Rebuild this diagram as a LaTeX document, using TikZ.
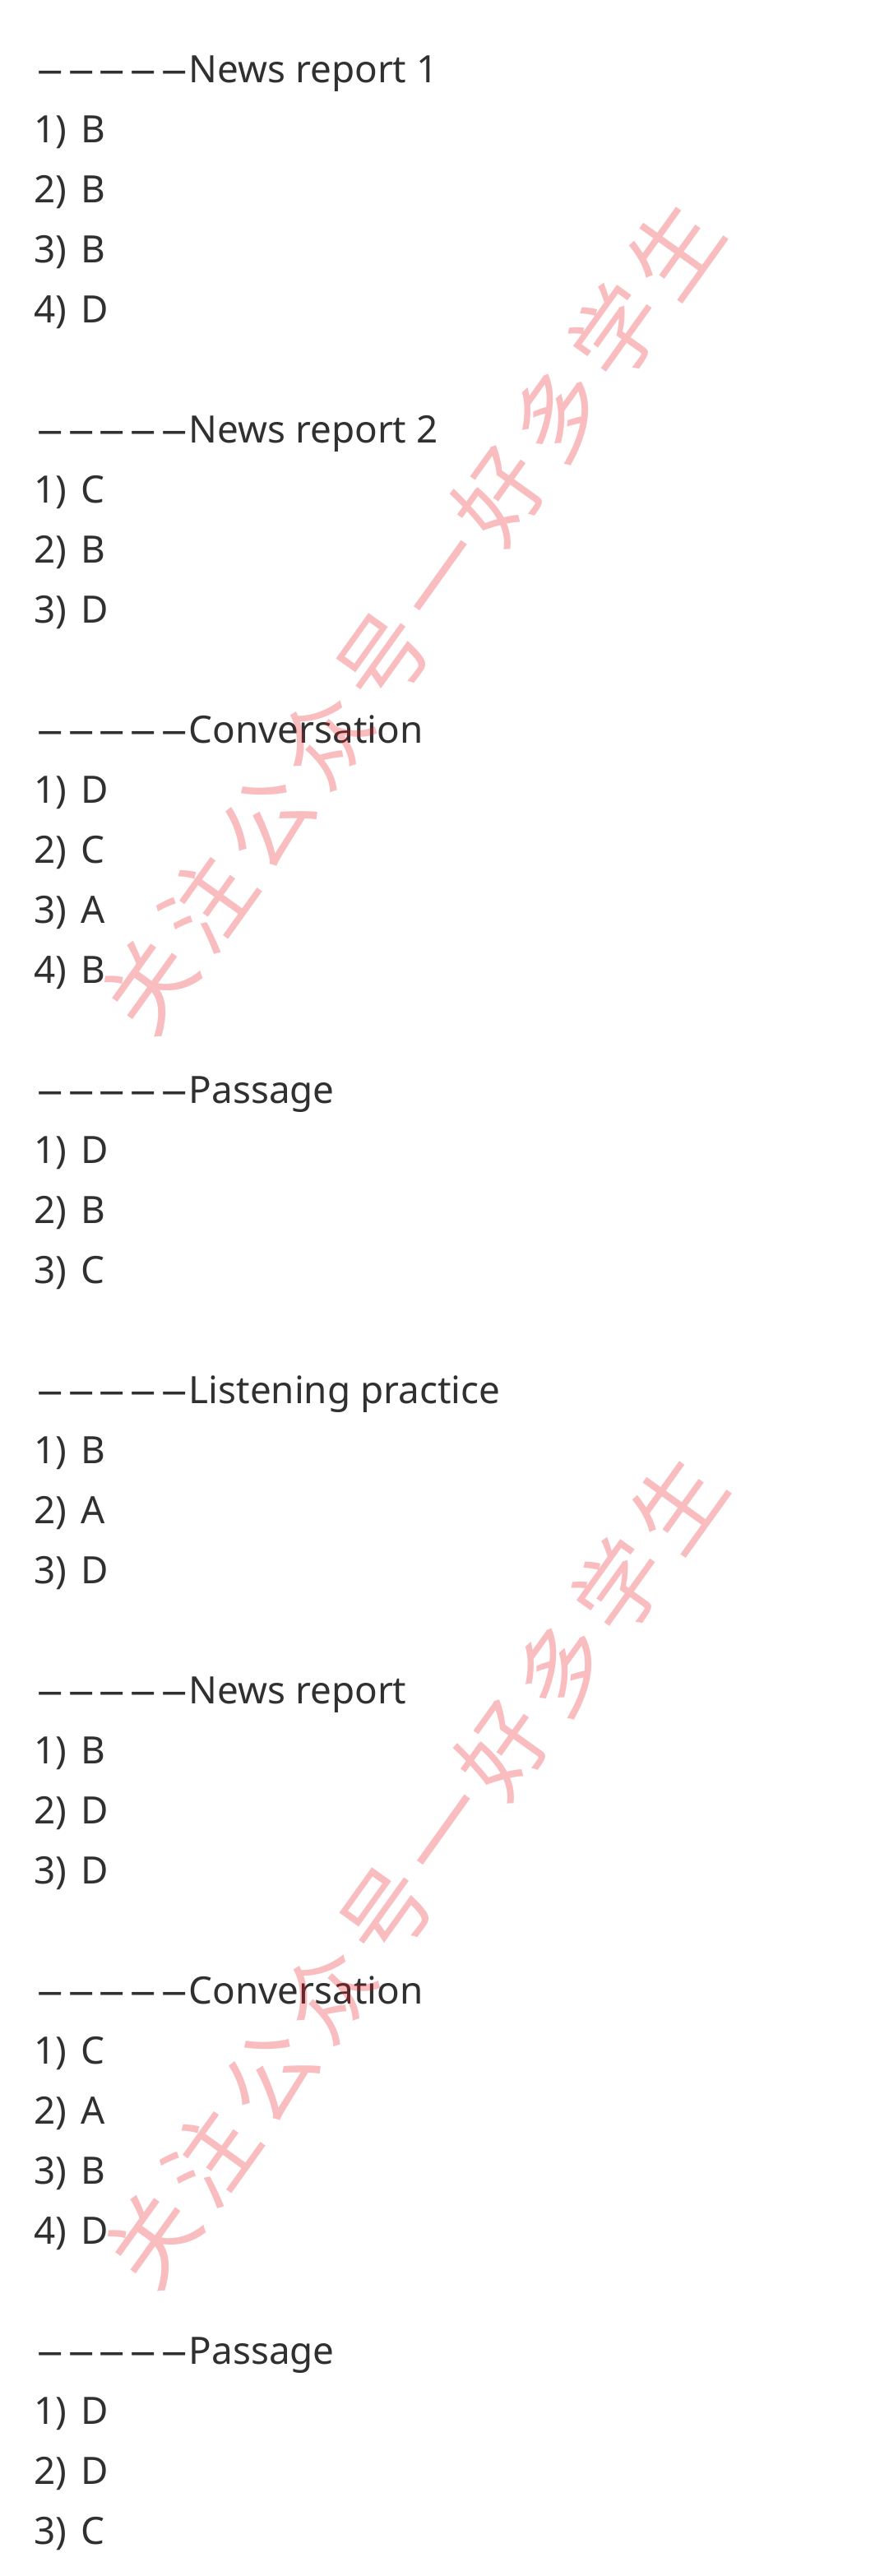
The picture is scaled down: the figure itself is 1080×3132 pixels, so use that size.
\documentclass[tikz,border=0pt]{standalone}
\usepackage{fontspec}
\setmainfont{Noto Sans}
\newfontfamily\cjk{Noto Sans CJK SC}
\definecolor{inkgray}{RGB}{48,48,48}
\definecolor{wmred}{RGB}{235,20,30}
\newcommand\onedash{\scalebox{.64}[1]{—}\kern8.5pt}
\newcommand\dashrun{\onedash\onedash\onedash\onedash\scalebox{.64}[1]{—}\kern3pt}
\newcommand\ansfont{\fontsize{45.8pt}{55pt}\selectfont\spaceskip 17pt\relax}
\newcommand\wk{\kern14pt}
\newcommand\wmstr{关\wk 注\wk 公\wk 众\wk 号\wk 一\wk 好\wk 多\wk 学\wk 生}
\tikzset{
  sec/.style={anchor=base west, inner sep=0pt, text=inkgray,
    font=\fontsize{45.8pt}{55pt}\selectfont},
  ans/.style={sec, font=\ansfont},
  wmark/.style={inner sep=0pt, text=wmred, text opacity=.28, rotate=54.4,
    font=\cjk\fontsize{108pt}{120pt}\selectfont}
}
\begin{document}
\begin{tikzpicture}[x=1pt,y=-1pt]
\useasboundingbox (0,0) rectangle (1080,3132);
\fill[white] (0,0) rectangle (1080,3132);
\node[sec] (s1) at (46,100) {\dashrun News report 1};
\node[ans] (s1a) at (41,173) {1) B};
\node[ans] (s1b) at (41,246) {2) B};
\node[ans] (s1c) at (41,319) {3) B};
\node[ans] (s1d) at (41,392) {4) D};

\node[sec] (s2) at (46,538) {\dashrun News report 2};
\node[ans] (s2a) at (41,611) {1) C};
\node[ans] (s2b) at (41,684) {2) B};
\node[ans] (s2c) at (41,757) {3) D};

\node[sec] (s3) at (46,903) {\dashrun Conversation};
\node[ans] (s3a) at (41,976) {1) D};
\node[ans] (s3b) at (41,1049) {2) C};
\node[ans] (s3c) at (41,1122) {3) A};
\node[ans] (s3d) at (41,1195) {4) B};

\node[sec] (s4) at (46,1341) {\dashrun Passage};
\node[ans] (s4a) at (41,1414) {1) D};
\node[ans] (s4b) at (41,1487) {2) B};
\node[ans] (s4c) at (41,1560) {3) C};

\node[sec] (s5) at (46,1706) {\dashrun Listening practice};
\node[ans] (s5a) at (41,1779) {1) B};
\node[ans] (s5b) at (41,1852) {2) A};
\node[ans] (s5c) at (41,1925) {3) D};

\node[sec] (s6) at (46,2071) {\dashrun News report};
\node[ans] (s6a) at (41,2144) {1) B};
\node[ans] (s6b) at (41,2217) {2) D};
\node[ans] (s6c) at (41,2290) {3) D};

\node[sec] (s7) at (46,2436) {\dashrun Conversation};
\node[ans] (s7a) at (41,2509) {1) C};
\node[ans] (s7b) at (41,2582) {2) A};
\node[ans] (s7c) at (41,2655) {3) B};
\node[ans] (s7d) at (41,2728) {4) D};

\node[sec] (s8) at (46,2874) {\dashrun Passage};
\node[ans] (s8a) at (41,2947) {1) D};
\node[ans] (s8b) at (41,3020) {2) D};
\node[ans] (s8c) at (41,3093) {3) C};

% watermark on top
\node[wmark] (wm1) at (501,750) {\wmstr};
\node[wmark] (wm2) at (505,2275) {\wmstr};
\end{tikzpicture}
\end{document}
